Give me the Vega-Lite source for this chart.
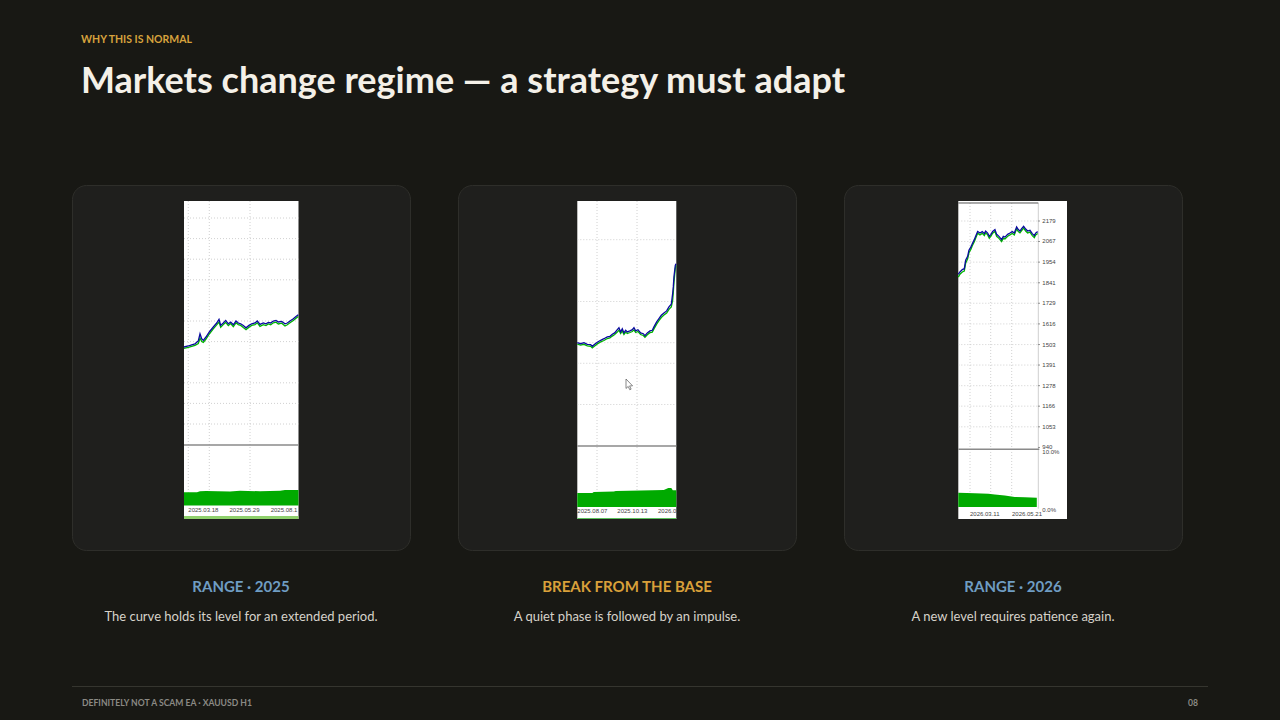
{
  "$schema": "https://vega.github.io/schema/vega-lite/v6.json",
  "background": "#181814",
  "padding": {"left": 71, "top": 35, "right": 73, "bottom": 14},
  "title": {
    "text": "WHY THIS IS NORMAL",
    "subtitle": "Markets change regime — a strategy must adapt",
    "anchor": "start", "frame": "group", "dx": 9, "baseline": "top", "offset": 85,
    "font": "Lato", "fontSize": 10.5, "fontWeight": "bold", "color": "#d6a23d",
    "subtitleFont": "Lato", "subtitleFontSize": 36, "subtitleFontWeight": "bold", "subtitleColor": "#f4f0e8", "subtitlePadding": 19
  },
  "datasets": {
    "one": [{"item": 1}],
    "c1curve": [
      {"n":0,"balance":1385,"equity":1378},{"n":8.6,"balance":1390,"equity":1383},{"n":15.4,"balance":1396,"equity":1388},{"n":22,"balance":1401,"equity":1393},
      {"n":28.6,"balance":1415,"equity":1402},{"n":32,"balance":1451,"equity":1430},{"n":35.4,"balance":1426,"equity":1412},{"n":38.6,"balance":1418,"equity":1408},
      {"n":44,"balance":1435,"equity":1425},{"n":50.6,"balance":1460,"equity":1450},{"n":58.6,"balance":1485,"equity":1476},{"n":65.4,"balance":1505,"equity":1496},
      {"n":70,"balance":1523,"equity":1510},{"n":73.4,"balance":1493,"equity":1484},{"n":78.6,"balance":1505,"equity":1497},{"n":83.4,"balance":1518,"equity":1508},
      {"n":88.6,"balance":1501,"equity":1492},{"n":93.4,"balance":1510,"equity":1502},{"n":98.6,"balance":1496,"equity":1487},{"n":104,"balance":1515,"equity":1506},
      {"n":108.6,"balance":1505,"equity":1497},{"n":113.4,"balance":1501,"equity":1493},{"n":118.6,"balance":1493,"equity":1482},{"n":124,"balance":1481,"equity":1472},
      {"n":130,"balance":1493,"equity":1484},{"n":135.4,"balance":1501,"equity":1493},{"n":142,"balance":1505,"equity":1497},{"n":146.6,"balance":1515,"equity":1506},
      {"n":152,"balance":1498,"equity":1488},{"n":158.6,"balance":1505,"equity":1497},{"n":164,"balance":1501,"equity":1492},{"n":168.6,"balance":1508,"equity":1500},
      {"n":173.4,"balance":1505,"equity":1496},{"n":178.6,"balance":1515,"equity":1506},{"n":184,"balance":1518,"equity":1509},{"n":188.6,"balance":1510,"equity":1500},
      {"n":195.4,"balance":1513,"equity":1504},{"n":202,"balance":1501,"equity":1490},{"n":206.6,"balance":1505,"equity":1496},{"n":212,"balance":1515,"equity":1506},
      {"n":218.6,"balance":1526,"equity":1517},{"n":224,"balance":1538,"equity":1529},{"n":228.6,"balance":1546,"equity":1538}
    ],
    "c1load": [
      {"n":0,"load":2.2},{"n":26,"load":2.2},{"n":32,"load":2.35},{"n":44,"load":2.4},{"n":92,"load":2.3},{"n":112,"load":2.45},
      {"n":152,"load":2.35},{"n":192,"load":2.45},{"n":202,"load":2.55},{"n":229,"load":2.55}
    ],
    "c1hgrid": [{"balance":1000},{"balance":1103},{"balance":1206},{"balance":1412},{"balance":1515},{"balance":1721},{"balance":1824},{"balance":1927},{"balance":2030}],
    "c1vgrid": [{"n":8.6},{"n":50.6},{"n":132}],
    "c1dates": [{"n":8.6,"label":"2025.03.18"},{"n":91,"label":"2025.05.29"},{"n":173.4,"label":"2025.08.1"}],
    "c2curve": [
      {"n":0,"balance":1309,"equity":1302},{"n":6.7,"balance":1304,"equity":1297},{"n":13.3,"balance":1309,"equity":1301},{"n":20,"balance":1301,"equity":1293},
      {"n":26.7,"balance":1299,"equity":1291},{"n":30,"balance":1291,"equity":1283},{"n":34.7,"balance":1301,"equity":1293},{"n":40,"balance":1311,"equity":1303},
      {"n":46.7,"balance":1321,"equity":1313},{"n":53.3,"balance":1329,"equity":1320},{"n":60,"balance":1338,"equity":1330},{"n":65.3,"balance":1341,"equity":1333},
      {"n":70,"balance":1351,"equity":1342},{"n":74.7,"balance":1358,"equity":1350},{"n":80,"balance":1374,"equity":1362},{"n":83.3,"balance":1384,"equity":1372},
      {"n":86.7,"balance":1363,"equity":1355},{"n":90,"balance":1379,"equity":1368},{"n":93.3,"balance":1358,"equity":1350},{"n":96.7,"balance":1371,"equity":1362},
      {"n":100,"balance":1363,"equity":1355},{"n":105.3,"balance":1368,"equity":1360},{"n":110,"balance":1374,"equity":1365},{"n":113.3,"balance":1384,"equity":1373},
      {"n":116.7,"balance":1368,"equity":1360},{"n":121.3,"balance":1374,"equity":1365},{"n":126.7,"balance":1358,"equity":1350},{"n":132,"balance":1354,"equity":1345},
      {"n":135.3,"balance":1344,"equity":1336},{"n":140,"balance":1358,"equity":1349},{"n":145.3,"balance":1368,"equity":1359},{"n":150,"balance":1371,"equity":1362},
      {"n":153.3,"balance":1388,"equity":1378},{"n":158.7,"balance":1413,"equity":1402},{"n":163.3,"balance":1429,"equity":1419},{"n":168,"balance":1446,"equity":1435},
      {"n":173.3,"balance":1458,"equity":1447},{"n":178.7,"balance":1468,"equity":1457},{"n":183.3,"balance":1488,"equity":1476},{"n":188,"balance":1501,"equity":1488},
      {"n":190.7,"balance":1554,"equity":1520},{"n":192,"balance":1588,"equity":1560},{"n":193.3,"balance":1638,"equity":1610},{"n":196,"balance":1696,"equity":1680},
      {"n":197.3,"balance":1704,"equity":1695}
    ],
    "c2load": [
      {"n":0,"load":2.29},{"n":30,"load":2.3},{"n":33,"load":2.45},{"n":73,"load":2.55},{"n":77,"load":2.62},{"n":127,"load":2.7},
      {"n":173,"load":2.8},{"n":182,"load":3.1},{"n":188,"load":3.1},{"n":191,"load":2.75},{"n":198,"load":2.75}
    ],
    "c2hgrid": [{"balance":1000},{"balance":1206},{"balance":1309},{"balance":1515},{"balance":1824}],
    "c2vgrid": [{"n":39.4},{"n":119.4}],
    "c2dates": [{"n":0,"label":"2025.08.07"},{"n":80,"label":"2025.10.13"},{"n":161.4,"label":"2026.0"}],
    "c2cursor": [{"n":97.4,"balance":1127.5}],
    "c3curve": [
      {"n":0,"balance":1887,"equity":1872},{"n":3.3,"balance":1900,"equity":1888},{"n":8,"balance":1913,"equity":1900},{"n":12,"balance":1918,"equity":1905},
      {"n":14.7,"balance":1964,"equity":1948},{"n":18.7,"balance":1986,"equity":1972},{"n":21.3,"balance":2019,"equity":2005},{"n":25.3,"balance":2037,"equity":2025},
      {"n":28,"balance":2055,"equity":2044},{"n":32,"balance":2077,"equity":2066},{"n":34.7,"balance":2095,"equity":2084},{"n":38.7,"balance":2122,"equity":2112},
      {"n":43.3,"balance":2113,"equity":2103},{"n":48,"balance":2121,"equity":2111},{"n":52,"balance":2110,"equity":2099},{"n":54.7,"balance":2124,"equity":2114},
      {"n":58.7,"balance":2113,"equity":2103},{"n":62,"balance":2095,"equity":2084},{"n":65.3,"balance":2106,"equity":2096},{"n":68.7,"balance":2122,"equity":2112},
      {"n":73.3,"balance":2132,"equity":2122},{"n":76.7,"balance":2106,"equity":2095},{"n":81.3,"balance":2095,"equity":2084},{"n":86.7,"balance":2077,"equity":2066},
      {"n":90,"balance":2095,"equity":2085},{"n":93.3,"balance":2091,"equity":2081},{"n":98.7,"balance":2106,"equity":2096},{"n":103.3,"balance":2113,"equity":2103},
      {"n":108,"balance":2121,"equity":2111},{"n":112,"balance":2113,"equity":2103},{"n":116.7,"balance":2146,"equity":2136},{"n":120,"balance":2132,"equity":2121},
      {"n":123.3,"balance":2124,"equity":2114},{"n":126.7,"balance":2137,"equity":2127},{"n":130.7,"balance":2150,"equity":2140},{"n":134.7,"balance":2135,"equity":2124},
      {"n":138.7,"balance":2124,"equity":2113},{"n":143.3,"balance":2128,"equity":2118},{"n":148,"balance":2110,"equity":2099},{"n":152,"balance":2099,"equity":2088},
      {"n":154.7,"balance":2113,"equity":2103},{"n":158.7,"balance":2121,"equity":2111}
    ],
    "c3load": [
      {"n":0,"load":2.45},{"n":33,"load":2.4},{"n":60,"load":2.3},{"n":73,"load":2.15},{"n":93,"load":2.0},{"n":113,"load":1.75},{"n":133,"load":1.7},{"n":157,"load":1.62}
    ],
    "c3levels": [
      {"balance":2179,"label":"2179"},{"balance":2067,"label":"2067"},{"balance":1954,"label":"1954"},{"balance":1841,"label":"1841"},
      {"balance":1729,"label":"1729"},{"balance":1616,"label":"1616"},{"balance":1503,"label":"1503"},{"balance":1391,"label":"1391"},
      {"balance":1278,"label":"1278"},{"balance":1166,"label":"1166"},{"balance":1053,"label":"1053"},{"balance":940,"label":"940"}
    ],
    "c3vgrid": [{"n":23.4},{"n":64.8},{"n":106.8}],
    "c3dates": [{"n":23.4,"label":"2026.03.11"},{"n":107.4,"label":"2026.05.21"}],
    "c3pct": [{"load":10,"label":"10.0%"},{"load":0,"label":"0.0%"}],
    "footer": [{"pos":"left","text":"DEFINITELY NOT A SCAM EA · XAUUSD H1"},{"pos":"right","text":"08"}]
  },
  "vconcat": [
    {
      "spacing": 48,
      "bounds": "flush",
      "hconcat": [
        {
          "width": 338, "height": 365,
          "title": {"text": "RANGE · 2025", "subtitle": "The curve holds its level for an extended period.", "orient": "bottom", "anchor": "middle", "offset": 30, "baseline": "top",
            "font": "Lato", "fontSize": 15, "fontWeight": "bold", "color": "#6f9dc3",
            "subtitleFont": "Lato", "subtitleFontSize": 13, "subtitleFontWeight": "normal", "subtitleColor": "#d6d2ca", "subtitlePadding": 16},
          "layer": [
            {"layer": [
              {"data": {"name": "one"}, "mark": {"type": "rect", "fill": "#ffffff"},
               "encoding": {"x": {"datum": 0, "type": "quantitative", "scale": {"domain": [-224, 452], "nice": false, "zero": false}}, "x2": {"datum": 229},
                            "y": {"datum": 2115, "type": "quantitative", "scale": {"domain": [370, 2195], "nice": false, "zero": false}}, "y2": {"datum": 525}}},
              {"data": {"name": "one"}, "mark": {"type": "rect", "fill": "#8fd06c"},
               "encoding": {"x": {"datum": 0}, "x2": {"datum": 229}, "y": {"datum": 540}, "y2": {"datum": 525}}},
              {"data": {"name": "c1hgrid"}, "mark": {"type": "rule", "color": "#c4c4c4", "strokeDash": [1, 2], "strokeWidth": 0.8},
               "encoding": {"y": {"field": "balance", "type": "quantitative"}, "x": {"datum": 0}, "x2": {"datum": 229}}},
              {"data": {"name": "c1vgrid"}, "mark": {"type": "rule", "color": "#c4c4c4", "strokeDash": [1, 2], "strokeWidth": 0.8},
               "encoding": {"x": {"field": "n", "type": "quantitative"}, "y": {"datum": 2115}, "y2": {"datum": 592.5}}},
              {"data": {"name": "one"}, "mark": {"type": "rule", "color": "#8a8a8a", "strokeWidth": 1.5},
               "encoding": {"x": {"datum": 0}, "x2": {"datum": 229}, "y": {"datum": 895}}},
              {"data": {"name": "c1curve"}, "mark": {"type": "line", "color": "#00b400", "strokeWidth": 1.3},
               "encoding": {"x": {"field": "n", "type": "quantitative"}, "y": {"field": "equity", "type": "quantitative"}}},
              {"data": {"name": "c1curve"}, "mark": {"type": "line", "color": "#0a0aa0", "strokeWidth": 1.3},
               "encoding": {"x": {"field": "n", "type": "quantitative"}, "y": {"field": "balance", "type": "quantitative"}}}
            ]},
            {"layer": [
              {"data": {"name": "c1load"}, "mark": {"type": "area", "color": "#00aa00"},
               "encoding": {"x": {"field": "n", "type": "quantitative"}, "y": {"field": "load", "type": "quantitative", "scale": {"domain": [-7.36, 52.98], "nice": false, "zero": false}}, "y2": {"datum": 0}}},
              {"data": {"name": "c1dates"}, "mark": {"type": "text", "align": "left", "baseline": "top", "dy": 2, "font": "Liberation Sans", "fontSize": 6, "color": "#444444"},
               "encoding": {"x": {"field": "n", "type": "quantitative"}, "y": {"datum": 0}, "text": {"field": "label"}}}
            ]}
          ],
          "resolve": {"scale": {"y": "independent"}}
        },
        {
          "width": 338, "height": 365,
          "title": {"text": "BREAK FROM THE BASE", "subtitle": "A quiet phase is followed by an impulse.", "orient": "bottom", "anchor": "middle", "offset": 30, "baseline": "top",
            "font": "Lato", "fontSize": 15, "fontWeight": "bold", "color": "#d9a03a",
            "subtitleFont": "Lato", "subtitleFontSize": 13, "subtitleFontWeight": "normal", "subtitleColor": "#d6d2ca", "subtitlePadding": 16},
          "layer": [
            {"layer": [
              {"data": {"name": "one"}, "mark": {"type": "rect", "fill": "#ffffff"},
               "encoding": {"x": {"datum": 0, "type": "quantitative", "scale": {"domain": [-238.6, 437.4], "nice": false, "zero": false}}, "x2": {"datum": 198},
                            "y": {"datum": 2017.5, "type": "quantitative", "scale": {"domain": [272.5, 2097.5], "nice": false, "zero": false}}, "y2": {"datum": 427.5}}},
              {"data": {"name": "one"}, "mark": {"type": "rect", "fill": "#5cc05c"},
               "encoding": {"x": {"datum": 0}, "x2": {"datum": 198}, "y": {"datum": 433}, "y2": {"datum": 427.5}}},
              {"data": {"name": "c2hgrid"}, "mark": {"type": "rule", "color": "#c4c4c4", "strokeDash": [1, 2], "strokeWidth": 0.8},
               "encoding": {"y": {"field": "balance", "type": "quantitative"}, "x": {"datum": 0}, "x2": {"datum": 198}}},
              {"data": {"name": "c2vgrid"}, "mark": {"type": "rule", "color": "#c4c4c4", "strokeDash": [1, 2], "strokeWidth": 0.8},
               "encoding": {"x": {"field": "n", "type": "quantitative"}, "y": {"datum": 2017.5}, "y2": {"datum": 487.5}}},
              {"data": {"name": "one"}, "mark": {"type": "rule", "color": "#8a8a8a", "strokeWidth": 1.5},
               "encoding": {"x": {"datum": 0}, "x2": {"datum": 198}, "y": {"datum": 792.5}}},
              {"data": {"name": "c2curve"}, "mark": {"type": "line", "color": "#00b400", "strokeWidth": 1.3},
               "encoding": {"x": {"field": "n", "type": "quantitative"}, "y": {"field": "equity", "type": "quantitative"}}},
              {"data": {"name": "c2curve"}, "mark": {"type": "line", "color": "#0a0aa0", "strokeWidth": 1.3},
               "encoding": {"x": {"field": "n", "type": "quantitative"}, "y": {"field": "balance", "type": "quantitative"}}},
              {"data": {"name": "c2cursor"}, "mark": {"type": "point", "shape": "M0,0L0,1.8L0.42,1.42L0.72,2.05L0.98,1.93L0.68,1.32L1.25,1.3Z", "filled": true, "fill": "#ffffff", "stroke": "#555555", "strokeWidth": 0.7, "size": 110, "opacity": 1},
               "encoding": {"x": {"field": "n", "type": "quantitative"}, "y": {"field": "balance", "type": "quantitative"}}}
            ]},
            {"layer": [
              {"data": {"name": "c2load"}, "mark": {"type": "area", "color": "#00aa00"},
               "encoding": {"x": {"field": "n", "type": "quantitative"}, "y": {"field": "load", "type": "quantitative", "scale": {"domain": [-7.05, 52.79], "nice": false, "zero": false}}, "y2": {"datum": 0}}},
              {"data": {"name": "c2dates"}, "mark": {"type": "text", "align": "left", "baseline": "top", "dy": 1.5, "font": "Liberation Sans", "fontSize": 6, "color": "#444444"},
               "encoding": {"x": {"field": "n", "type": "quantitative"}, "y": {"datum": 0}, "text": {"field": "label"}}}
            ]}
          ],
          "resolve": {"scale": {"y": "independent"}}
        },
        {
          "width": 338, "height": 365,
          "title": {"text": "RANGE · 2026", "subtitle": "A new level requires patience again.", "orient": "bottom", "anchor": "middle", "offset": 30, "baseline": "top",
            "font": "Lato", "fontSize": 15, "fontWeight": "bold", "color": "#6f9dc3",
            "subtitleFont": "Lato", "subtitleFontSize": 13, "subtitleFontWeight": "normal", "subtitleColor": "#d6d2ca", "subtitlePadding": 16},
          "layer": [
            {"layer": [
              {"data": {"name": "one"}, "mark": {"type": "rect", "fill": "#ffffff"},
               "encoding": {"x": {"datum": 0, "type": "quantitative", "scale": {"domain": [-228.6, 447.4], "nice": false, "zero": false}}, "x2": {"datum": 217.4},
                            "y": {"datum": 2288.4, "type": "quantitative", "scale": {"domain": [379.04, 2375.96], "nice": false, "zero": false}}, "y2": {"datum": 548.6}}},
              {"data": {"name": "c3levels"}, "transform": [{"filter": "datum.balance > 1000"}], "mark": {"type": "rule", "color": "#c4c4c4", "strokeDash": [1, 2], "strokeWidth": 0.8},
               "encoding": {"y": {"field": "balance", "type": "quantitative"}, "x": {"datum": 0}, "x2": {"datum": 160}}},
              {"data": {"name": "c3vgrid"}, "mark": {"type": "rule", "color": "#c4c4c4", "strokeDash": [1, 2], "strokeWidth": 0.8},
               "encoding": {"x": {"field": "n", "type": "quantitative"}, "y": {"datum": 2277.5}, "y2": {"datum": 614}}},
              {"data": {"name": "one"}, "mark": {"type": "rule", "color": "#cfcfcf", "strokeWidth": 1},
               "encoding": {"x": {"datum": 160}, "y": {"datum": 2277.5}, "y2": {"datum": 605}}},
              {"data": {"name": "one"}, "mark": {"type": "rule", "color": "#555555", "strokeWidth": 1},
               "encoding": {"x": {"datum": 0}, "x2": {"datum": 160}, "y": {"datum": 2277.5}}},
              {"data": {"name": "one"}, "mark": {"type": "rule", "color": "#8a8a8a", "strokeWidth": 1.5},
               "encoding": {"x": {"datum": 0}, "x2": {"datum": 162}, "y": {"datum": 930}}},
              {"data": {"name": "c3levels"}, "mark": {"type": "rule", "color": "#555555", "strokeWidth": 0.8},
               "encoding": {"y": {"field": "balance", "type": "quantitative"}, "x": {"datum": 160}, "x2": {"datum": 163}}},
              {"data": {"name": "c3levels"}, "mark": {"type": "text", "align": "left", "baseline": "middle", "dx": 4, "font": "Liberation Sans", "fontSize": 6, "color": "#444444"},
               "encoding": {"y": {"field": "balance", "type": "quantitative"}, "x": {"datum": 160}, "text": {"field": "label"}}},
              {"data": {"name": "c3curve"}, "mark": {"type": "line", "color": "#00b400", "strokeWidth": 1.3},
               "encoding": {"x": {"field": "n", "type": "quantitative"}, "y": {"field": "equity", "type": "quantitative"}}},
              {"data": {"name": "c3curve"}, "mark": {"type": "line", "color": "#0a0aa0", "strokeWidth": 1.3},
               "encoding": {"x": {"field": "n", "type": "quantitative"}, "y": {"field": "balance", "type": "quantitative"}}}
            ]},
            {"layer": [
              {"data": {"name": "c3load"}, "mark": {"type": "area", "color": "#00aa00"},
               "encoding": {"x": {"field": "n", "type": "quantitative"}, "y": {"field": "load", "type": "quantitative", "scale": {"domain": [-7.45, 55.8], "nice": false, "zero": false}}, "y2": {"datum": 0}}},
              {"data": {"name": "c3dates"}, "mark": {"type": "text", "align": "left", "baseline": "top", "dy": 4, "font": "Liberation Sans", "fontSize": 6, "color": "#444444"},
               "encoding": {"x": {"field": "n", "type": "quantitative"}, "y": {"datum": 0}, "text": {"field": "label"}}},
              {"data": {"name": "c3pct"}, "mark": {"type": "text", "align": "left", "baseline": "top", "dx": 4, "dy": -0.5, "font": "Liberation Sans", "fontSize": 6, "color": "#444444"},
               "encoding": {"x": {"datum": 160}, "y": {"field": "load", "type": "quantitative"}, "text": {"field": "label"}}}
            ]}
          ],
          "resolve": {"scale": {"y": "independent"}}
        }
      ]
    },
    {
      "width": 1136, "height": 1,
      "view": {"fill": "#35352f", "stroke": null, "cornerRadius": 0},
      "data": {"name": "footer"},
      "layer": [
        {"transform": [{"filter": "datum.pos === 'left'"}],
         "mark": {"type": "text", "align": "left", "baseline": "middle", "dx": 10, "dy": 16, "font": "Lato", "fontSize": 8.6, "fontWeight": "bold", "color": "#8b8a84"},
         "encoding": {"x": {"field": "pos", "type": "nominal", "scale": {"type": "point", "domain": ["left", "right"], "padding": 0}}, "text": {"field": "text"}}},
        {"transform": [{"filter": "datum.pos === 'right'"}],
         "mark": {"type": "text", "align": "right", "baseline": "middle", "dx": -10, "dy": 16, "font": "Lato", "fontSize": 8.6, "fontWeight": "bold", "color": "#8b8a84"},
         "encoding": {"x": {"field": "pos", "type": "nominal"}, "text": {"field": "text"}}}
      ]
    }
  ],
  "spacing": 61,
  "config": {
    "font": "Lato",
    "view": {"fill": "#1f1f1d", "stroke": "#2e2e2a", "strokeWidth": 1, "cornerRadius": 14},
    "axis": {"disable": true},
    "legend": {"disable": true}
  }
}
